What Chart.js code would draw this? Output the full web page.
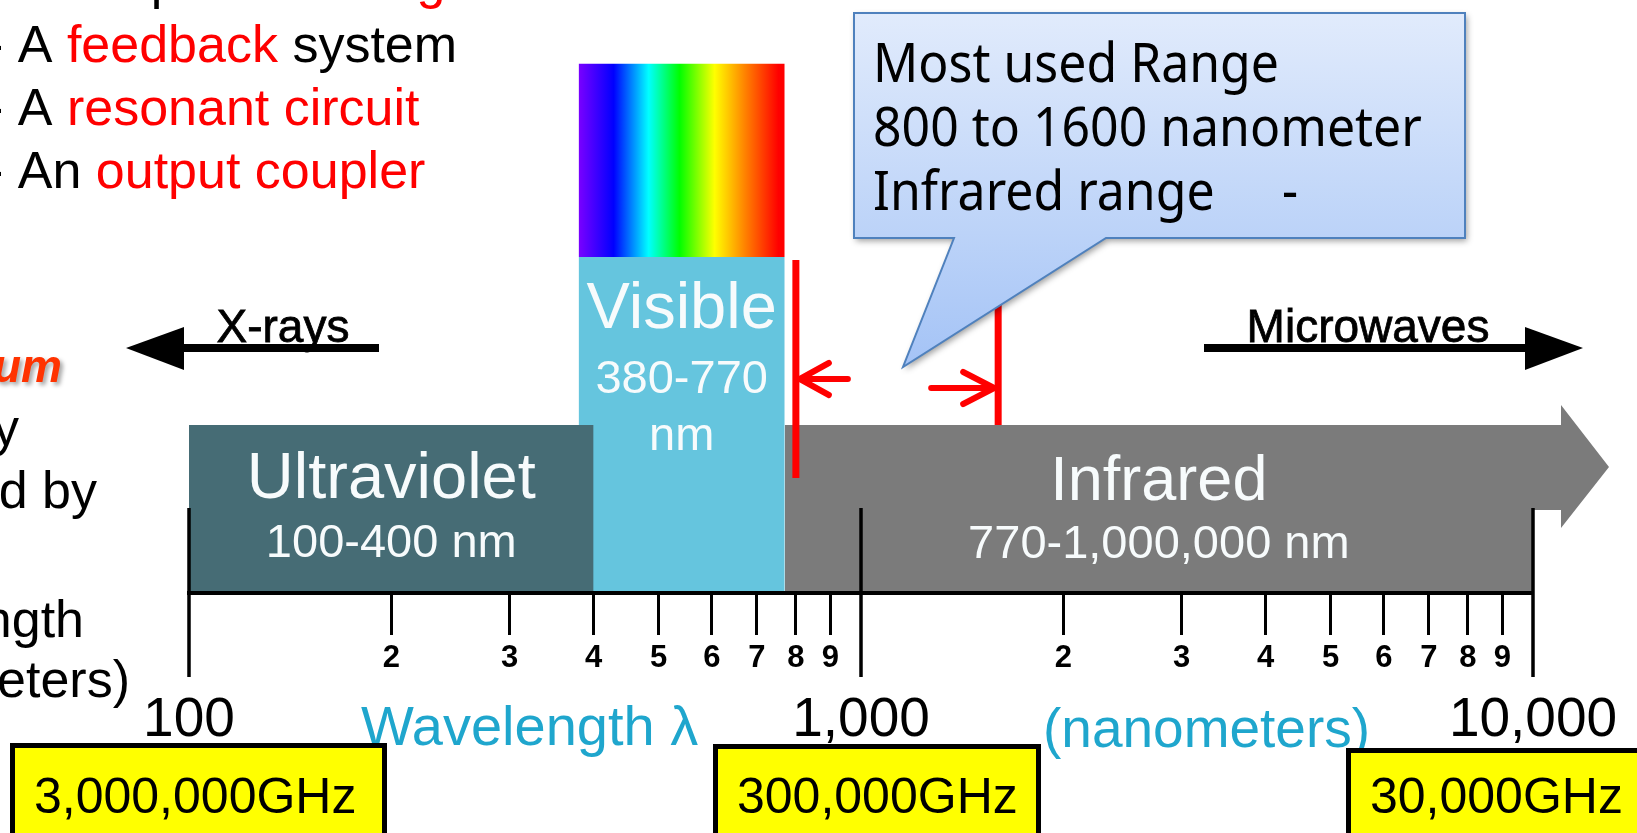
<!DOCTYPE html>
<html>
<head>
<meta charset="utf-8">
<title>Electromagnetic spectrum – wavelength scale</title>
<script src="https://cdn.jsdelivr.net/npm/chart.js@4.4.1/dist/chart.umd.min.js"></script>
<style>
  html, body { margin: 0; padding: 0; background: #ffffff; }
  #wrap { width: 1637px; height: 833px; position: relative; overflow: hidden; }
  canvas { display: block; }
</style>
</head>
<body>
<div id="wrap"><canvas id="spectrum" width="1637" height="833"></canvas></div>
<script>
// ---------- data ----------
// Wavelength bands (nm)
const bandNames  = ['Ultraviolet', 'Visible', 'Infrared'];
const bandRanges = [['100-400 nm'], ['380-770', 'nm'], ['770-1,000,000 nm']];
const bandStart  = [100, 380, 770];
const bandEnd    = [400, 770, 1000000];

// Wavelength axis (nm)
const majorTicks  = [100, 1000, 10000];
const majorLabels = ['100', '1,000', '10,000'];
const minorTicks  = [200, 300, 400, 500, 600, 700, 800, 900,
                     2000, 3000, 4000, 5000, 6000, 7000, 8000, 9000];
const minorLabels = ['2', '3', '4', '5', '6', '7', '8', '9',
                     '2', '3', '4', '5', '6', '7', '8', '9'];

// Frequency at each decade mark
const frequencyLabels = ['3,000,000GHz', '300,000GHz', '30,000GHz'];

// Most used range (nm)
const usedRange = [800, 1600];
const calloutLines = ['Most used Range', '800 to 1600 nanometer', 'Infrared range'];

// ---------- styles ----------
const SANS = '"Liberation Sans", Arial, Helvetica, sans-serif';
const bandColors = ['#466c75', '#65c5de', '#7b7b7b'];
const bandTop = [1, 2, 1];            // bar heights in band units
const spectrumTop = 3.15;
const bandText = [
  { nameSize: 65, nameDy: 73, rangeSize: 47, rangeDy: [132] },
  { nameSize: 65, nameDy: 71, rangeSize: 47, rangeDy: [136, 193] },
  { nameSize: 63, nameDy: 75, rangeSize: 47, rangeDy: [133] }
];
const markerSpan = [[0.685, 1.982], [0.542, 2.1]];
const freqBox = [
  { dx: -179, w: 377, top: 743 },
  { dx: -148, w: 328, top: 744 },
  { dx: -187, w: 320, top: 748 }
];

function rect(x0, x1, y0, y1) {
  return [{ x: x0, y: y0 }, { x: x0, y: y1 }, { x: x1, y: y1 }, { x: x1, y: y0 }];
}

function spectrumGradient(context) {
  const chart = context.chart;
  const xs = chart.scales.x;
  if (!chart.chartArea || !xs) return '#888';
  const g = chart.ctx.createLinearGradient(
    xs.getPixelForValue(bandStart[1]), 0, xs.getPixelForValue(bandEnd[1]), 0);
  g.addColorStop(0.00, '#7a00ff');
  g.addColorStop(0.17, '#0000ff');
  g.addColorStop(0.34, '#00ffff');
  g.addColorStop(0.49, '#00ff00');
  g.addColorStop(0.66, '#ffff00');
  g.addColorStop(0.81, '#ff8000');
  g.addColorStop(0.97, '#ff0000');
  g.addColorStop(1.00, '#ff0000');
  return g;
}

const datasets = [
  // red markers of the most used range
  ...usedRange.map((v, i) => ({
    label: 'range ' + v,
    data: [{ x: v, y: markerSpan[i][0] }, { x: v, y: markerSpan[i][1] }],
    borderColor: '#ff0000', borderWidth: 7, pointRadius: 0, fill: false, order: i === 0 ? 0 : 5
  })),
  // bands
  ...bandNames.map((n, i) => ({
    label: n,
    data: rect(bandStart[i], bandEnd[i], 0, bandTop[i]),
    borderWidth: 0, borderColor: 'rgba(0,0,0,0)', pointRadius: 0,
    backgroundColor: bandColors[i], fill: 'origin',
    order: [2, 3, 4][i]
  })),
  // colour strip above the visible band
  {
    label: 'spectrum',
    data: rect(bandStart[1], bandEnd[1], bandTop[1], spectrumTop),
    borderWidth: 0, borderColor: 'rgba(0,0,0,0)', pointRadius: 0,
    backgroundColor: spectrumGradient, fill: { value: bandTop[1] }, order: 3
  }
];

function runs(c, x, y, parts) {
  parts.forEach(([t, col]) => {
    c.fillStyle = col;
    c.fillText(t, x, y);
    x += c.measureText(t).width;
  });
}

function chevron(c, tipX, y, dir) {
  // dir = -1 points left, +1 points right
  c.save();
  c.strokeStyle = '#ff0000';
  c.lineWidth = 6;
  c.lineCap = 'round';
  c.lineJoin = 'round';
  const len = dir < 0 ? 48 : 63;
  const arm = dir < 0 ? 29 : 31;
  c.beginPath();
  c.moveTo(tipX, y); c.lineTo(tipX - dir * len, y);
  c.moveTo(tipX - dir * arm, y - 16); c.lineTo(tipX, y); c.lineTo(tipX - dir * arm, y + 16);
  c.stroke();
  c.restore();
}

function blackArrow(c, x0, x1, tip, y, label) {
  c.save();
  c.fillStyle = '#000';
  c.fillRect(Math.min(x0, x1), y - 4, Math.abs(x1 - x0), 8);
  const base = tip < x0 ? x0 : x1;
  c.beginPath();
  c.moveTo(tip, y); c.lineTo(base, y - 21); c.lineTo(base, y + 22); c.closePath();
  c.fill();
  c.font = '46px ' + SANS;
  c.textAlign = 'center';
  c.textBaseline = 'alphabetic';
  c.lineWidth = 0.8;
  c.strokeStyle = '#000';
  c.fillText(label.text, label.x, y - 6);
  c.strokeText(label.text, label.x, y - 6);
  c.restore();
}

const decorations = {
  id: 'decorations',
  beforeDraw(chart) {
    const c = chart.ctx;
    c.save();
    c.fillStyle = '#ffffff';
    c.fillRect(0, 0, chart.width, chart.height);
    // slide text at the left
    c.font = '52px ' + SANS;
    c.textAlign = 'left';
    c.textBaseline = 'alphabetic';
    runs(c, -14, -2, [['- A lamp for ', '#000'], ['exciting', '#ff0000']]);
    runs(c, -14, 62, [['- A ', '#000'], ['feedback', '#ff0000'], [' system', '#000']]);
    runs(c, -14, 125, [['- A ', '#000'], ['resonant circuit', '#ff0000']]);
    runs(c, -14, 188, [['- An ', '#000'], ['output coupler', '#ff0000']]);
    c.textAlign = 'right';
    c.fillStyle = '#000';
    c.fillText('Radiant energy', 19, 445);
    c.fillText('classified by', 97, 508);
    c.fillText('Wavelength', 84, 637);
    c.fillText('(nanometers)', 130, 697);
    c.save();
    c.font = 'italic bold 46px ' + SANS;
    c.fillStyle = '#ff3300';
    c.shadowColor = 'rgba(0,0,0,0.35)';
    c.shadowBlur = 4; c.shadowOffsetX = 3; c.shadowOffsetY = 3;
    c.fillText('Electromagnetic Spectrum', 62, 382);
    c.restore();
    c.restore();
  },
  afterDatasetsDraw(chart) {
    const c = chart.ctx;
    const xs = chart.scales.x, ys = chart.scales.y;
    c.save();

    // infrared continues past the scale: arrow head
    const xEnd = xs.getPixelForValue(xs.max);
    const irTop = ys.getPixelForValue(bandTop[2]);
    c.fillStyle = bandColors[2];
    c.beginPath();
    c.moveTo(xEnd, irTop); c.lineTo(xEnd + 28, irTop); c.lineTo(xEnd + 28, irTop - 20);
    c.lineTo(xEnd + 76, irTop + 42); c.lineTo(xEnd + 28, irTop + 103);
    c.lineTo(xEnd + 28, irTop + 85); c.lineTo(xEnd, irTop + 85); c.closePath();
    c.fill();

    // band captions
    c.fillStyle = '#f7fbfc';
    c.textAlign = 'center';
    c.textBaseline = 'alphabetic';
    bandNames.forEach((name, i) => {
      const x0 = xs.getPixelForValue(bandStart[i]);
      const x1 = xs.getPixelForValue(Math.min(bandEnd[i], xs.max));
      const cx = (x0 + x1) / 2;
      const top = ys.getPixelForValue(bandTop[i]);
      const s = bandText[i];
      c.font = s.nameSize + 'px ' + SANS;
      c.fillText(name, cx, top + s.nameDy);
      c.font = s.rangeSize + 'px ' + SANS;
      bandRanges[i].forEach((t, k) => c.fillText(t, cx, top + s.rangeDy[k]));
    });

    // long decade ticks
    c.strokeStyle = '#000';
    c.lineWidth = 3.5;
    majorTicks.forEach(v => {
      const px = Math.round(xs.getPixelForValue(v));
      c.beginPath(); c.moveTo(px, 508); c.lineTo(px, 677); c.stroke();
    });

    // arrows pointing at the used range
    chevron(c, xs.getPixelForValue(usedRange[0]) + 4, 379, -1);
    chevron(c, xs.getPixelForValue(usedRange[1]) - 4, 388, 1);

    // neighbouring bands
    blackArrow(c, 184, 379, 126, 348, { text: 'X-rays', x: 283 });
    blackArrow(c, 1204, 1525, 1583, 348, { text: 'Microwaves', x: 1368 });

    // callout
    c.save();
    c.beginPath();
    c.moveTo(854, 13); c.lineTo(1465, 13); c.lineTo(1465, 238); c.lineTo(1106, 238);
    c.lineTo(903, 367); c.lineTo(954, 238); c.lineTo(854, 238); c.closePath();
    const g = c.createLinearGradient(0, 13, 0, 367);
    g.addColorStop(0, '#e1ebfc');
    g.addColorStop(0.62, '#bcd3f8');
    g.addColorStop(1, '#a4c3f6');
    c.fillStyle = g;
    c.shadowColor = 'rgba(0,0,0,0.38)';
    c.shadowBlur = 6; c.shadowOffsetX = 2; c.shadowOffsetY = 3;
    c.fill();
    c.shadowColor = 'rgba(0,0,0,0)';
    c.strokeStyle = '#4f81bd';
    c.lineWidth = 2;
    c.stroke();
    c.restore();
    c.save();
    c.fillStyle = '#000';
    c.textAlign = 'left';
    c.textBaseline = 'alphabetic';
    c.font = '54px "Noto Sans", "Open Sans", sans-serif';
    [82, 146, 210].forEach((y, k) => {
      c.save(); c.translate(873, y); c.scale(0.925, 1);
      c.fillText(calloutLines[k], 0, 0);
      c.restore();
    });
    c.save(); c.translate(1282, 210); c.scale(0.925, 1); c.fillText('-', 0, 0); c.restore();
    c.restore();

    // axis caption pieces
    c.fillStyle = '#1fa6cd';
    c.textAlign = 'left';
    c.font = '56px ' + SANS;
    c.fillText('Wavelength \u03bb', 361, 745);
    c.font = '55px ' + SANS;
    c.fillText('(nanometers)', 1043, 747);

    // frequency boxes
    c.textBaseline = 'alphabetic';
    majorTicks.forEach((v, i) => {
      const px = xs.getPixelForValue(v);
      const b = freqBox[i];
      const x = px + b.dx;
      c.fillStyle = '#ffff00';
      c.fillRect(x, b.top, b.w, 120);
      c.strokeStyle = '#000';
      c.lineWidth = 5;
      c.strokeRect(x + 2.5, b.top + 2.5, b.w - 5, 120);
      c.fillStyle = '#000';
      c.font = '50px ' + SANS;
      c.fillText(frequencyLabels[i], x + 24, 813);
    });
    c.restore();
  }
};

new Chart(document.getElementById('spectrum'), {
  type: 'line',
  data: { datasets },
  plugins: [decorations],
  options: {
    responsive: false,
    animation: false,
    events: [],
    layout: { padding: { left: 189, right: 104, top: 5, bottom: 86 } },
    elements: { line: { tension: 0 } },
    plugins: { legend: { display: false }, tooltip: { enabled: false } },
    scales: {
      x: {
        type: 'logarithmic', min: 100, max: 10000, position: 'bottom',
        afterBuildTicks: s => { s.ticks = minorTicks.map(v => ({ value: v })); },
        afterFit: s => { s.height = 84; },
        ticks: {
          callback: (v, i) => minorLabels[i],
          autoSkip: false, maxRotation: 0, minRotation: 0, padding: 5,
          color: '#000', font: { family: SANS, size: 31, weight: 'bold' }
        },
        grid: { drawOnChartArea: false, drawTicks: true, tickLength: 42, tickWidth: 3, tickColor: '#000' },
        border: { display: true, color: '#000', width: 4, z: 1 }
      },
      x2: {
        type: 'logarithmic', min: 100, max: 10000, position: 'bottom',
        afterBuildTicks: s => { s.ticks = majorTicks.map(v => ({ value: v })); },
        afterFit: s => { s.height = 70; },
        ticks: {
          callback: (v, i) => majorLabels[i],
          autoSkip: false, maxRotation: 0, minRotation: 0, padding: 11,
          color: '#000', font: { family: SANS, size: 55 }
        },
        grid: { display: false, drawTicks: false },
        border: { display: false }
      },
      y: { type: 'linear', min: 0, max: 3.5, display: false }
    }
  }
});
</script>
</body>
</html>
